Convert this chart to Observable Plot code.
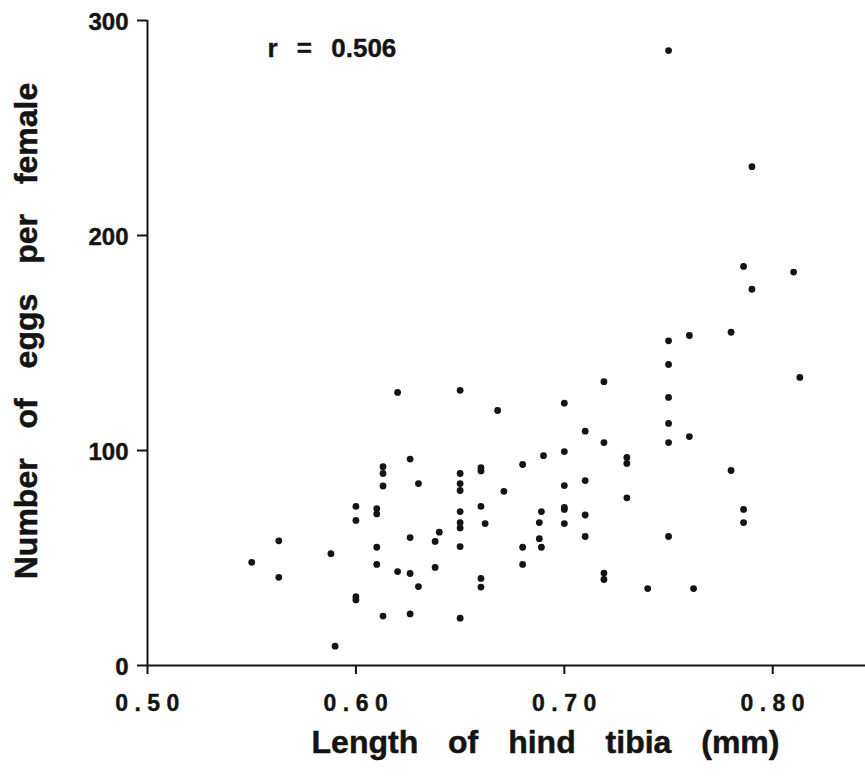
<!DOCTYPE html>
<html>
<head>
<meta charset="utf-8">
<script src="https://cdn.jsdelivr.net/npm/d3@7"></script>
<script src="https://cdn.jsdelivr.net/npm/@observablehq/plot@0.6"></script>
<style>
  html, body { margin: 0; padding: 0; background: #fff; }
  #chart svg { display: block; }
</style>
</head>
<body>
<div id="chart"></div>
<script>
// Length of hind tibia (mm)
const tibia = [0.550,0.563,0.563,0.588,0.590,0.600,0.600,0.600,0.600,0.610,0.610,0.610,0.610,0.613,0.613,0.613,0.613,0.620,0.620,0.626,0.626,0.626,0.626,0.630,0.630,0.638,0.638,0.640,0.650,0.650,0.650,0.650,0.650,0.650,0.650,0.650,0.650,0.660,0.660,0.660,0.662,0.660,0.660,0.668,0.671,0.680,0.680,0.680,0.690,0.689,0.688,0.688,0.689,0.700,0.700,0.700,0.700,0.700,0.700,0.710,0.710,0.710,0.710,0.719,0.719,0.719,0.719,0.730,0.730,0.730,0.740,0.750,0.750,0.750,0.750,0.750,0.750,0.750,0.760,0.760,0.762,0.780,0.780,0.786,0.786,0.786,0.790,0.790,0.810,0.813];
// Number of eggs per female
const eggs = [48,58,41,52,9,74,67.5,32,30.5,73,70.5,55,47,92.5,89.3,83.5,23,127,43.7,96,59.5,42.8,24,84.6,36.7,57.7,45.6,62,128,89.3,84.6,81.4,71.6,66.5,64,55.3,22,92,90.5,74,66,40.5,36.5,118.6,81,93.5,55,47,97.6,71.6,66.5,59,55,122,99.5,83.7,73.5,72.6,66,109,86,70,60,132,103.7,43,40,96.8,94,78,35.8,286,151,140,124.7,112.6,103.7,60,153.5,106.5,35.8,155,90.7,185.6,72.6,66.5,232,175,183,134];

const xTicks = [0.5, 0.6, 0.7, 0.8];
const yTicks = [0, 100, 200, 300];
const xTickLabels = ["0.50", "0.60", "0.70", "0.80"];
const yTickLabels = ["0", "100", "200", "300"];
const xLabel = "Length of hind tibia (mm)";
const yLabel = "Number of eggs per female";
const rLabel = "r = 0.506";

const points = tibia.map((t, i) => ({tibia: t, eggs: eggs[i]}));

const ink = "#141414";
const font = "'Liberation Sans', Arial, Helvetica, sans-serif";

const chart = Plot.plot({
  width: 865,
  height: 776,
  marginLeft: 147,
  marginRight: 0,
  marginTop: 20,
  marginBottom: 111,
  style: {fontFamily: font, fontWeight: "bold", color: ink, background: "#fff"},
  x: {domain: [0.5, 0.8445], axis: null},
  y: {domain: [0, 300], axis: null},
  marks: [
    // axis lines
    Plot.ruleY([0], {stroke: ink, strokeWidth: 2}),
    Plot.ruleX([0.5], {y1: 0, y2: 300, stroke: ink, strokeWidth: 2}),
    // tick marks
    Plot.ruleX(xTicks, {x: d => d, y1: 0, y2: 0, insetBottom: -9, stroke: ink, strokeWidth: 2}),
    Plot.ruleY(yTicks, {y: d => d, x1: 0.5, x2: 0.5, insetLeft: -10, stroke: ink, strokeWidth: 2}),
    // tick labels
    Plot.text(xTicks, {x: d => d, text: (d, i) => xTickLabels[i], frameAnchor: "bottom", lineAnchor: "middle", dx: 3, dy: 38, fontSize: 23, fontWeight: "bold", fill: ink, stroke: ink, strokeWidth: 0.4}),
    Plot.text(yTicks, {y: d => d, text: (d, i) => yTickLabels[i], frameAnchor: "left", textAnchor: "end", lineAnchor: "middle", dx: -19, dy: 2, fontSize: 24, fontWeight: "bold", fill: ink, stroke: ink, strokeWidth: 0.4}),
    // data
    Plot.dot(points, {x: "tibia", y: "eggs", r: 3.4, fill: ink, stroke: "none"}),
    // annotations & titles
    Plot.text([rLabel], {frameAnchor: "top-left", textAnchor: "start", lineAnchor: "middle", dx: 120, dy: 28, fontSize: 26, fontWeight: "bold", fill: ink, stroke: ink, strokeWidth: 0.4}),
    Plot.text([xLabel], {frameAnchor: "bottom", textAnchor: "middle", lineAnchor: "middle", dx: 39, dy: 77, fontSize: 32, fontWeight: "bold", fill: ink, stroke: ink, strokeWidth: 0.5}),
    Plot.text([yLabel], {frameAnchor: "left", rotate: -90, textAnchor: "middle", lineAnchor: "middle", dx: -121, dy: -12, fontSize: 32, fontWeight: "bold", fill: ink, stroke: ink, strokeWidth: 0.5})
  ]
});

const svg = d3.select(chart);
svg.selectAll("text").each(function() {
  const t = this.textContent;
  const s = d3.select(this);
  if (xTickLabels.includes(t) && t.includes(".")) s.style("letter-spacing", "6.5px");
  if (t === xLabel || t === yLabel) s.style("word-spacing", "21px");
  if (t === rLabel) s.style("word-spacing", "12px");
});

document.getElementById("chart").appendChild(chart);
</script>
</body>
</html>
